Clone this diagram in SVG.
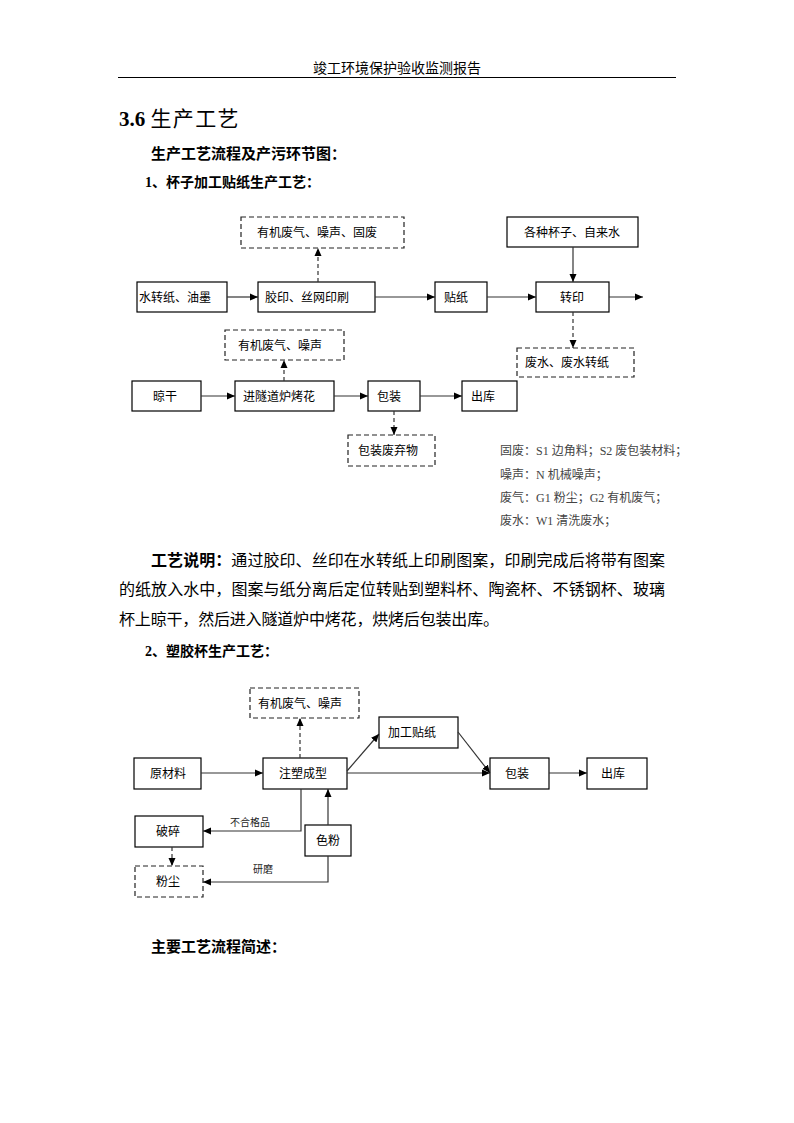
<svg xmlns="http://www.w3.org/2000/svg" width="794" height="1123" viewBox="0 0 794 1123">
<style>
.bg{fill:#fff}
.box{fill:#fff;stroke:#000;stroke-width:1.2}
.dbox{fill:#fff;stroke:#222;stroke-width:1.2;stroke-dasharray:5,3}
.ln{fill:none;stroke:#333;stroke-width:1.2}
.dl{fill:none;stroke:#333;stroke-width:1.2;stroke-dasharray:4,3}
.t{font-family:"Noto Sans CJK SC","Noto Sans",sans-serif;font-size:12px;fill:#000}
.tc{text-anchor:middle}
.lab{font-family:"Noto Sans CJK SC","Noto Sans",sans-serif;font-size:10px;fill:#222}
.leg{font-family:"Liberation Serif","Noto Sans CJK SC",serif;font-size:12px;fill:#444}
.body{font-family:"Liberation Serif","Noto Sans CJK SC",serif;font-size:16px;fill:#000}
.hb{font-family:"Liberation Serif","Noto Sans CJK SC",serif;font-weight:bold;fill:#000}
</style>
<defs>
<marker id="ar" markerUnits="userSpaceOnUse" markerWidth="8" markerHeight="8" refX="8" refY="4" orient="auto">
<path d="M0,0.5 L8,4 L0,7.5 z" fill="#000"/>
</marker>
</defs>
<rect class="bg" x="0" y="0" width="794" height="1123"/>

<g id="header">
<text x="397" y="73" class="t tc" style="font-size:14px">竣工环境保护验收监测报告</text>
<line x1="118" y1="77.5" x2="676" y2="77.5" stroke="#000" stroke-width="1"/>
</g>

<g id="headings">
<text x="119" y="126" class="hb" style="font-size:21px">3.6 <tspan font-weight="normal" textLength="88" lengthAdjust="spacing">生产工艺</tspan></text>
<text x="151" y="159" class="hb" style="font-size:15px">生产工艺流程及产污环节图：</text>
<text x="145" y="187" class="hb" style="font-size:14px">1、杯子加工贴纸生产工艺：</text>
</g>

<!-- Diagram 1 nodes -->
<g id="n-waste1"><rect class="dbox" x="241" y="217" width="163" height="31"/><text x="257" y="237" class="t">有机废气、噪声、固废</text></g>
<g id="n-cups"><rect class="box" x="507" y="217" width="131" height="30"/><text x="572" y="237" class="t tc">各种杯子、自来水</text></g>
<g id="n-paper"><rect class="box" x="137" y="282" width="90" height="30"/><text x="139" y="302" class="t">水转纸、油墨</text></g>
<g id="n-print"><rect class="box" x="258" y="282" width="117" height="30"/><text x="265" y="302" class="t">胶印、丝网印刷</text></g>
<g id="n-sticker"><rect class="box" x="435" y="282" width="52" height="30"/><text x="444" y="302" class="t">贴纸</text></g>
<g id="n-transfer"><rect class="box" x="536" y="282" width="73" height="30"/><text x="572" y="302" class="t tc">转印</text></g>
<g id="n-waste2"><rect class="dbox" x="517" y="348" width="117" height="29"/><text x="525" y="367" class="t">废水、废水转纸</text></g>
<g id="n-waste3"><rect class="dbox" x="225" y="330" width="119" height="30"/><text x="238" y="350" class="t">有机废气、噪声</text></g>
<g id="n-dry"><rect class="box" x="132" y="381" width="69" height="30"/><text x="165" y="401" class="t tc">晾干</text></g>
<g id="n-oven"><rect class="box" x="235" y="381" width="99" height="30"/><text x="243" y="401" class="t">进隧道炉烤花</text></g>
<g id="n-pack1"><rect class="box" x="368" y="381" width="52" height="30"/><text x="377" y="401" class="t">包装</text></g>
<g id="n-out1"><rect class="box" x="462" y="381" width="55" height="30"/><text x="471" y="401" class="t">出库</text></g>
<g id="n-packwaste"><rect class="dbox" x="348" y="435" width="87" height="31"/><text x="358" y="455" class="t">包装废弃物</text></g>

<g id="legend">
<text x="500" y="455" class="leg">固废：S1 边角料；S2 废包装材料；</text>
<text x="500" y="479" class="leg">噪声：N 机械噪声；</text>
<text x="500" y="502" class="leg">废气：G1 粉尘；G2 有机废气；</text>
<text x="500" y="525" class="leg">废水：W1 清洗废水；</text>
</g>

<g id="paragraph">
<text x="151" y="566" class="body" textLength="514" lengthAdjust="spacing"><tspan font-weight="bold">工艺说明：</tspan>通过胶印、丝印在水转纸上印刷图案，印刷完成后将带有图案</text>
<text x="119" y="595" class="body" textLength="546" lengthAdjust="spacing">的纸放入水中，图案与纸分离后定位转贴到塑料杯、陶瓷杯、不锈钢杯、玻璃</text>
<text x="119" y="625" class="body" textLength="380" lengthAdjust="spacing">杯上晾干，然后进入隧道炉中烤花，烘烤后包装出库。</text>
<text x="145" y="656" class="hb" style="font-size:14px">2、塑胶杯生产工艺：</text>
</g>

<!-- Diagram 2 nodes -->
<g id="m-waste"><rect class="dbox" x="250" y="688" width="109" height="30"/><text x="258" y="708" class="t">有机废气、噪声</text></g>
<g id="m-sticker"><rect class="box" x="379" y="717" width="79" height="31"/><text x="388" y="737" class="t">加工贴纸</text></g>
<g id="m-raw"><rect class="box" x="134" y="758" width="67" height="31"/><text x="168" y="778" class="t tc">原材料</text></g>
<g id="m-mold"><rect class="box" x="263" y="758" width="84" height="31"/><text x="303" y="778" class="t tc">注塑成型</text></g>
<g id="m-pack"><rect class="box" x="490" y="758" width="59" height="31"/><text x="505" y="778" class="t">包装</text></g>
<g id="m-out"><rect class="box" x="587" y="758" width="60" height="31"/><text x="601" y="778" class="t">出库</text></g>
<g id="m-crush"><rect class="box" x="135" y="816" width="68" height="31"/><text x="168" y="836" class="t tc">破碎</text></g>
<g id="m-color"><rect class="box" x="305" y="825" width="46" height="31"/><text x="328" y="845" class="t tc">色粉</text></g>
<g id="m-dust"><rect class="dbox" x="135" y="866" width="68" height="31"/><text x="168" y="886" class="t tc">粉尘</text></g>

<g id="connectors">
<line class="ln" x1="227" y1="297" x2="258" y2="297" marker-end="url(#ar)"/>
<line class="ln" x1="375" y1="297" x2="435" y2="297" marker-end="url(#ar)"/>
<line class="ln" x1="487" y1="297" x2="536" y2="297" marker-end="url(#ar)"/>
<line class="ln" x1="609" y1="297" x2="643" y2="297" marker-end="url(#ar)"/>
<line class="ln" x1="573" y1="247" x2="573" y2="282" marker-end="url(#ar)"/>
<line class="dl" x1="573" y1="312" x2="573" y2="348" marker-end="url(#ar)"/>
<line class="dl" x1="318" y1="282" x2="318" y2="248" marker-end="url(#ar)"/>
<line class="ln" x1="201" y1="396" x2="235" y2="396" marker-end="url(#ar)"/>
<line class="ln" x1="334" y1="396" x2="368" y2="396" marker-end="url(#ar)"/>
<line class="ln" x1="420" y1="396" x2="462" y2="396" marker-end="url(#ar)"/>
<line class="dl" x1="284" y1="381" x2="284" y2="360" marker-end="url(#ar)"/>
<line class="dl" x1="394" y1="411" x2="394" y2="435" marker-end="url(#ar)"/>

<line class="ln" x1="201" y1="773" x2="263" y2="773" marker-end="url(#ar)"/>
<line class="ln" x1="347" y1="773" x2="490" y2="773" marker-end="url(#ar)"/>
<line class="ln" x1="347" y1="771" x2="379" y2="734" marker-end="url(#ar)"/>
<line class="ln" x1="458" y1="732" x2="490" y2="773" marker-end="url(#ar)"/>
<line class="ln" x1="549" y1="773" x2="587" y2="773" marker-end="url(#ar)"/>
<line class="dl" x1="300" y1="758" x2="300" y2="718" marker-end="url(#ar)"/>
<polyline class="ln" points="301,789 301,831 203,831" marker-end="url(#ar)"/>
<line class="ln" x1="328" y1="825" x2="328" y2="789" marker-end="url(#ar)"/>
<polyline class="ln" points="328,856 328,882 203,882" marker-end="url(#ar)"/>
<line class="dl" x1="172" y1="847" x2="172" y2="866" marker-end="url(#ar)"/>
<text x="230" y="826" class="lab">不合格品</text>
<text x="253" y="873" class="lab">研磨</text>
</g>

<g id="footer-heading">
<text x="151" y="952" class="hb" style="font-size:15px">主要工艺流程简述：</text>
</g>
</svg>
